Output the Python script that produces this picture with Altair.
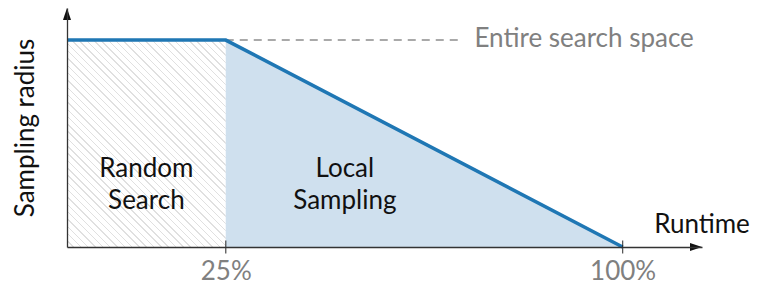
import math
import altair as alt
import pandas as pd

# ---- data ----
X_DOMAIN = [-5, 115]          # runtime (%), axis runs a little past both ticks
Y_DOMAIN = [0, 1.155]         # sampling radius (1 = entire search space)
radius_x = [-5, 25, 100]
radius_y = [1, 1, 0]
local_x = [25, 100]
local_y = [1, 0]
random_x = [-5, 25]
random_y = [0, 1]
tick_values = [25, 100]
dash_x = [25, 69.6]
region_labels = ["Random\nSearch", "Local\nSampling"]
region_x = [10, 47.5]
region_y = [0.338, 0.338]
space_label = "Entire search space"
space_x, space_y = 72, 0.965
runtime_label = "Runtime"
runtime_x, runtime_y = 115, 0.068
y_title = "Sampling radius"

# ---- style ----
PLOT_W, PLOT_H = 635, 239
FONT = "Lato"
FS = 26
BLUE = "#1f77b4"
FILL = "#cfe0ee"
AXIS = "#333333"
GRAY = "#808080"
HATCH = "#e0e0e0"

x_scale = alt.Scale(domain=X_DOMAIN, nice=False, zero=False)
y_scale = alt.Scale(domain=Y_DOMAIN, nice=False)

# hatch pattern built as a striped linear gradient (stripes along "\" direction)
px_x = PLOT_W / (X_DOMAIN[1] - X_DOMAIN[0])
px_y = PLOT_H / (Y_DOMAIN[1] - Y_DOMAIN[0])
w = (random_x[1] - random_x[0]) * px_x
h = (random_y[1] - random_y[0]) * px_y
a, b = 1 / h, 1 / w
t = (a + b) / (a * a + b * b)
gx1, gy1, gx2, gy2 = 0, 1, t * a, 1 - t * b
span = (w + h) / math.sqrt(2)
period = 5.2
n = max(1, round(span / period))
stops = []
for i in range(n):
    o0 = i / n
    o1 = (i + 0.8) / n
    o2 = (i + 1) / n
    stops += [
        {"offset": o0, "color": "white"},
        {"offset": o1, "color": "white"},
        {"offset": o1, "color": HATCH},
        {"offset": o2, "color": HATCH},
    ]
hatch_fill = {"gradient": "linear", "x1": gx1, "y1": gy1, "x2": gx2, "y2": gy2, "stops": stops}

rand_df = pd.DataFrame({"x": [random_x[0]], "x2": [random_x[1]], "y": [random_y[0]], "y2": [random_y[1]]})
hatch = alt.Chart(rand_df).mark_rect(fill=hatch_fill, strokeWidth=0).encode(
    x=alt.X("x:Q", scale=x_scale,
            axis=alt.Axis(values=tick_values, labelExpr="datum.value + '%'", ticks=False, tickSize=0,
                          grid=False, domainColor=AXIS, domainWidth=1.3, labelColor=GRAY,
                          labelFont=FONT, labelFontSize=FS, labelPadding=11, title=None, zindex=1)),
    x2="x2:Q",
    y=alt.Y("y:Q", scale=y_scale,
            axis=alt.Axis(labels=False, ticks=False, grid=False, domainColor=AXIS, domainWidth=1.3,
                          title=y_title, titleFont=FONT, titleFontSize=FS, titleFontWeight="normal",
                          titleColor="#111111", titlePadding=29, zindex=1)),
    y2="y2:Q",
)

local_df = pd.DataFrame({"x": local_x, "y": local_y})
area = alt.Chart(local_df).mark_area(color=FILL, opacity=1).encode(
    x=alt.X("x:Q", scale=x_scale), y=alt.Y("y:Q", scale=y_scale))

line_df = pd.DataFrame({"x": radius_x, "y": radius_y, "o": range(len(radius_x))})
line = alt.Chart(line_df).mark_line(color=BLUE, strokeWidth=3.5).encode(
    x=alt.X("x:Q", scale=x_scale), y=alt.Y("y:Q", scale=y_scale), order="o:Q")

dash_df = pd.DataFrame({"x": [dash_x[0]], "x2": [dash_x[1]], "y": [1]})
dash = alt.Chart(dash_df).mark_rule(color="#555555", strokeWidth=1.1, strokeDash=[8, 6]).encode(
    x=alt.X("x:Q", scale=x_scale), x2="x2:Q", y=alt.Y("y:Q", scale=y_scale))

tick_df = pd.DataFrame({"x": tick_values, "y": [0] * len(tick_values)})
ticks = alt.Chart(tick_df).mark_tick(orient="vertical", size=13, thickness=1.3, color="#111111").encode(
    x=alt.X("x:Q", scale=x_scale), y=alt.Y("y:Q", scale=y_scale))

reg_df = pd.DataFrame({"x": region_x, "y": region_y, "t": region_labels})
reg_text = alt.Chart(reg_df).mark_text(font=FONT, fontSize=FS, color="#111111", align="center",
                                       baseline="alphabetic", lineBreak="\n", lineHeight=32).encode(
    x=alt.X("x:Q", scale=x_scale), y=alt.Y("y:Q", scale=y_scale), text="t:N")

space_df = pd.DataFrame({"x": [space_x], "y": [space_y], "t": [space_label]})
space_text = alt.Chart(space_df).mark_text(font=FONT, fontSize=FS, color=GRAY, align="left",
                                           baseline="alphabetic").encode(
    x=alt.X("x:Q", scale=x_scale), y=alt.Y("y:Q", scale=y_scale), text="t:N")

run_df = pd.DataFrame({"x": [runtime_x], "y": [runtime_y], "t": [runtime_label]})
run_text = alt.Chart(run_df).mark_text(font=FONT, fontSize=FS, color="#111111", align="center",
                                       baseline="alphabetic").encode(
    x=alt.X("x:Q", scale=x_scale), y=alt.Y("y:Q", scale=y_scale), text="t:N")

arrow_x_df = pd.DataFrame({"x": [X_DOMAIN[1]], "y": [Y_DOMAIN[0]]})
arrow_x = alt.Chart(arrow_x_df).mark_point(shape="M0,0L-2,-0.67L-2,0.67Z", filled=True, size=144,
                                           color="#111111", opacity=1).encode(
    x=alt.X("x:Q", scale=x_scale), y=alt.Y("y:Q", scale=y_scale))
arrow_y_df = pd.DataFrame({"x": [X_DOMAIN[0]], "y": [Y_DOMAIN[1]]})
arrow_y = alt.Chart(arrow_y_df).mark_point(shape="M0,0L-0.67,2L0.67,2Z", filled=True, size=144,
                                           color="#111111", opacity=1).encode(
    x=alt.X("x:Q", scale=x_scale), y=alt.Y("y:Q", scale=y_scale))

chart = alt.layer(hatch, area, dash, line, ticks, reg_text, space_text, run_text, arrow_x, arrow_y).properties(
    width=PLOT_W, height=PLOT_H,
    autosize=alt.AutoSizeParams(type="none"),
    padding={"left": 59, "top": 0, "right": 50, "bottom": 37},
).configure_view(stroke=None)

chart.save("out.html", embed_options={"renderer": "svg", "actions": False})
